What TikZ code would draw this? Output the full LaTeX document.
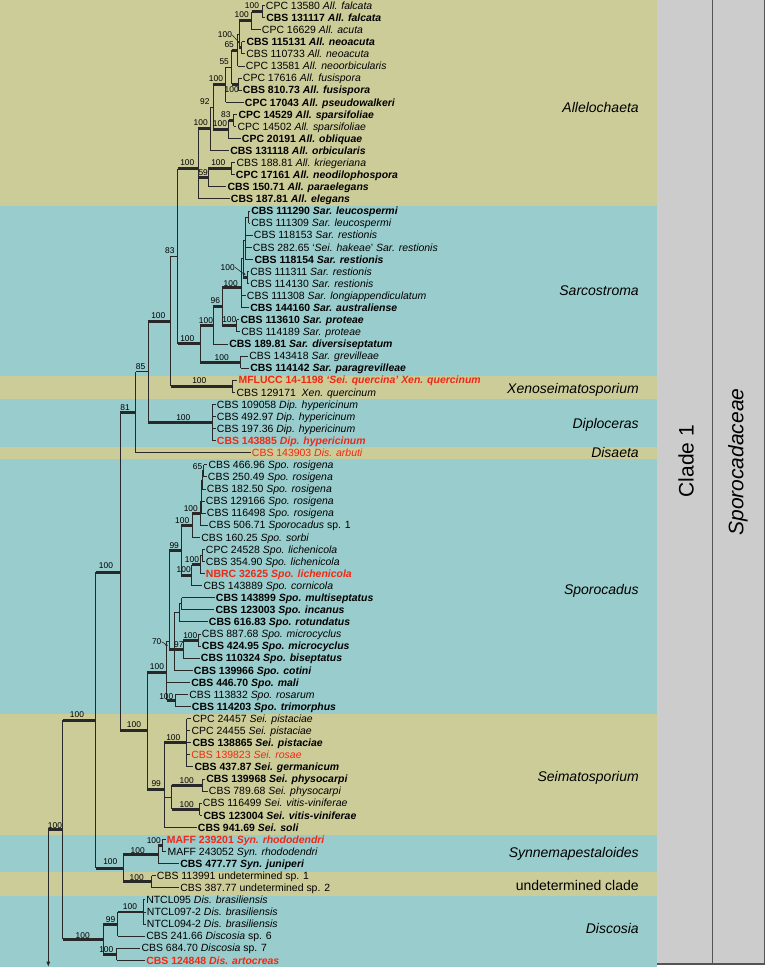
\documentclass[tikz,border=0pt]{standalone}
\usepackage{fontspec}
\setmainfont{Liberation Sans}
\usetikzlibrary{arrows.meta}
\definecolor{tanb}{RGB}{204,204,153}
\definecolor{blueb}{RGB}{153,204,204}
\definecolor{panel}{RGB}{204,204,204}
\definecolor{panelline}{RGB}{85,85,85}
\definecolor{redt}{RGB}{240,40,20}
\definecolor{ln}{RGB}{40,40,40}
\pgfmathdeclarefunction{ly}{1}{\pgfmathparse{5.6+(#1-1)*12.085}}
\newcommand\lv[4][]{\node[leaf,#1] (l#2) at ({#3-1.2},{ly(#2)}) {#4};}
\newcommand\br[3][thinb]{\draw[#1] (#2 |- #3) -- (#3);}
\newcommand\vt[3]{\draw[thinb] (#1 |- #2) -- (#1 |- #3);}
\newcommand\bs[4]{\node[bsl] (#1) at (#2,#3) {#4};}
\begin{document}
\begin{tikzpicture}[x=0.75pt,y=-0.75pt,
  thinb/.style={draw=ln, line width=0.7pt},
  thickb/.style={draw=ln, line width=2.2pt},
  arr/.style={draw=ln, line width=0.45pt, -{Latex[length=2.4pt,width=2pt]}},
  leaf/.style={anchor=west, inner xsep=0.9pt, inner ysep=0pt, text height=5.6pt, text depth=0pt, font=\fontsize{7.85}{9}\selectfont},
  bld/.style={font=\fontsize{7.85}{9}\selectfont\bfseries},
  rd/.style={text=redt},
  bsl/.style={inner sep=0pt, text height=4.5pt, text depth=0pt, font=\fontsize{6.3}{7}\selectfont},
  grp/.style={anchor=east, inner sep=0pt, text height=7.5pt, text depth=0pt, font=\fontsize{10.5}{12}\selectfont\itshape}]
\useasboundingbox (0,0) rectangle (765,969);
% bands
\fill[tanb] (0,0) rectangle (657,206);
\fill[blueb] (0,206) rectangle (657,376);
\fill[tanb] (0,376) rectangle (657,399);
\fill[blueb] (0,399) rectangle (657,447);
\fill[tanb] (0,447) rectangle (657,459);
\fill[blueb] (0,459) rectangle (657,713.5);
\fill[tanb] (0,713.5) rectangle (657,834.5);
\fill[blueb] (0,834.5) rectangle (657,872);
\fill[tanb] (0,872) rectangle (657,895.5);
\fill[blueb] (0,895.5) rectangle (657,967);
% right panel
\fill[panel] (657,0) rectangle (764.5,964);
\draw[panelline, line width=0.8pt] (712.5,0) -- (712.5,964) (764.5,0) -- (764.5,964) (657,964) -- (764.5,964);
\node[rotate=90, inner sep=0pt, font=\fontsize{15.75}{18}\selectfont] (clade) at (686,461) {Clade 1};
\node[rotate=90, inner sep=0pt, font=\fontsize{15.75}{18}\selectfont\itshape] (fam) at (738,462) {Sporocadaceae};
% group labels
\node[grp] (gAll) at (639,108) {Allelochaeta};
\node[grp] (gSar) at (639,291) {Sarcostroma};
\node[grp] (gXen) at (639,388) {Xenoseimatosporium};
\node[grp] (gDip) at (639,423) {Diploceras};
\node[grp] (gDis) at (639,452.8) {Disaeta};
\node[grp] (gSpo) at (639,589.5) {Sporocadus};
\node[grp] (gSei) at (639,776) {Seimatosporium};
\node[grp] (gSyn) at (639,852.6) {Synnemapestaloides};
\node[grp, font=\fontsize{10.5}{12}\selectfont] (gUnd) at (639,885.4) {undetermined clade};
\node[grp] (gDsc) at (639,928) {Discosia};
% leaves
\lv{1}{265.7}{CPC 13580 \textit{All. falcata}}
\lv[bld]{2}{266}{CBS 131117 \textit{All. falcata}}
\lv{3}{261.7}{CPC 16629 \textit{All. acuta}}
\lv[bld]{4}{246.3}{CBS 115131 \textit{All. neoacuta}}
\lv{5}{246}{CBS 110733 \textit{All. neoacuta}}
\lv{6}{245.7}{CPC 13581 \textit{All. neoorbicularis}}
\lv{7}{242.7}{CPC 17616 \textit{All. fusispora}}
\lv[bld]{8}{242.7}{CBS 810.73 \textit{All. fusispora}}
\lv[bld]{9}{244.7}{CPC 17043 \textit{All. pseudowalkeri}}
\lv[bld]{10}{238.3}{CPC 14529 \textit{All. sparsifoliae}}
\lv{11}{237.3}{CPC 14502 \textit{All. sparsifoliae}}
\lv[bld]{12}{241.7}{CPC 20191 \textit{All. obliquae}}
\lv[bld]{13}{230}{CBS 131118 \textit{All. orbicularis}}
\lv{14}{236.3}{CBS 188.81 \textit{All. kriegeriana}}
\lv[bld]{15}{235.7}{CPC 17161 \textit{All. neodilophospora}}
\lv[bld]{16}{227.3}{CBS 150.71 \textit{All. paraelegans}}
\lv[bld]{17}{230.7}{CBS 187.81 \textit{All. elegans}}
\lv[bld]{18}{251}{CBS 111290 \textit{Sar. leucospermi}}
\lv{19}{251}{CBS 111309 \textit{Sar. leucospermi}}
\lv{20}{253.7}{CBS 118153 \textit{Sar. restionis}}
\lv{21}{252.7}{CBS 282.65 `\textit{Sei. hakeae}' \textit{Sar. restionis}}
\lv[bld]{22}{254.3}{CBS 118154 \textit{Sar. restionis}}
\lv{23}{250}{CBS 111311 \textit{Sar. restionis}}
\lv{24}{250}{CBS 114130 \textit{Sar. restionis}}
\lv{25}{246.7}{CBS 111308 \textit{Sar. longiappendiculatum}}
\lv[bld]{26}{250}{CBS 144160 \textit{Sar. australiense}}
\lv[bld]{27}{240.3}{CBS 113610 \textit{Sar. proteae}}
\lv{28}{241}{CBS 114189 \textit{Sar. proteae}}
\lv[bld]{29}{229}{CBS 189.81 \textit{Sar. diversiseptatum}}
\lv{30}{249}{CBS 143418 \textit{Sar. grevilleae}}
\lv[bld]{31}{250}{CBS 114142 \textit{Sar. paragrevilleae}}
\lv[bld,rd]{32}{238.3}{MFLUCC 14-1198 \textit{`Sei. quercina' Xen. quercinum}}
\lv{33}{236.3}{CBS 129171\ \ \textit{Xen. quercinum}}
\lv{34}{216.7}{CBS 109058 \textit{Dip. hypericinum}}
\lv{35}{216.7}{CBS 492.97 \textit{Dip. hypericinum}}
\lv{36}{216.7}{CBS 197.36 \textit{Dip. hypericinum}}
\lv[bld,rd]{37}{216.7}{CBS 143885 \textit{Dip. hypericinum}}
\lv[rd]{38}{251.7}{CBS 143903 \textit{Dis. arbuti}}
\lv{39}{208.3}{CBS 466.96 \textit{Spo. rosigena}}
\lv{40}{207.7}{CBS 250.49 \textit{Spo. rosigena}}
\lv{41}{206.7}{CBS 182.50 \textit{Spo. rosigena}}
\lv{42}{205.7}{CBS 129166 \textit{Spo. rosigena}}
\lv{43}{206.7}{CBS 116498 \textit{Spo. rosigena}}
\lv{44}{208.7}{CBS 506.71 \textit{Sporocadus} sp. 1}
\lv{45}{201}{CBS 160.25 \textit{Spo. sorbi}}
\lv{46}{205.7}{CPC 24528 \textit{Spo. lichenicola}}
\lv{47}{205.7}{CBS 354.90 \textit{Spo. lichenicola}}
\lv[bld,rd]{48}{205.7}{NBRC 32625 \textit{Spo. lichenicola}}
\lv{49}{203.3}{CBS 143889 \textit{Spo. cornicola}}
\lv[bld]{50}{215.7}{CBS 143899 \textit{Spo. multiseptatus}}
\lv[bld]{51}{215.3}{CBS 123003 \textit{Spo. incanus}}
\lv[bld]{52}{208.7}{CBS 616.83 \textit{Spo. rotundatus}}
\lv{53}{201.7}{CBS 887.68 \textit{Spo. microcyclus}}
\lv[bld]{54}{201.7}{CBS 424.95 \textit{Spo. microcyclus}}
\lv[bld]{55}{200.7}{CBS 110324 \textit{Spo. biseptatus}}
\lv[bld]{56}{193.7}{CBS 139966 \textit{Spo. cotini}}
\lv[bld]{57}{191}{CBS 446.70 \textit{Spo. mali}}
\lv{58}{189}{CBS 113832 \textit{Spo. rosarum}}
\lv[bld]{59}{191.7}{CBS 114203 \textit{Spo. trimorphus}}
\lv{60}{192.3}{CPC 24457 \textit{Sei. pistaciae}}
\lv{61}{191.3}{CPC 24455 \textit{Sei. pistaciae}}
\lv[bld]{62}{192.3}{CBS 138865 \textit{Sei. pistaciae}}
\lv[rd]{63}{191}{CBS 139823 \textit{Sei. rosae}}
\lv[bld]{64}{194.3}{CBS 437.87 \textit{Sei. germanicum}}
\lv[bld]{65}{206}{CBS 139968 \textit{Sei. physocarpi}}
\lv{66}{208.7}{CBS 789.68 \textit{Sei. physocarpi}}
\lv{67}{202.7}{CBS 116499 \textit{Sei. vitis-viniferae}}
\lv[bld]{68}{203.3}{CBS 123004 \textit{Sei. vitis-viniferae}}
\lv[bld]{69}{197.7}{CBS 941.69 \textit{Sei. soli}}
\lv[bld,rd]{70}{166.7}{MAFF 239201 \textit{Syn. rhododendri}}
\lv{71}{167.3}{MAFF 243052 \textit{Syn. rhododendri}}
\lv[bld]{72}{180}{CBS 477.77 \textit{Syn. juniperi}}
\lv{73}{156.7}{CBS 113991 undetermined sp. 1}
\lv{74}{180}{CBS 387.77 undetermined sp. 2}
\lv{75}{146}{NTCL095 \textit{Dis. brasiliensis}}
\lv{76}{146.7}{NTCL097-2 \textit{Dis. brasiliensis}}
\lv{77}{146.7}{NTCL094-2 \textit{Dis. brasiliensis}}
\lv{78}{146}{CBS 241.66 \textit{Discosia} sp. 6}
\lv{79}{141.3}{CBS 684.70 \textit{Discosia} sp. 7}
\lv[bld,rd]{80}{146}{CBS 124848 \textit{Dis. artocreas}}
% internal nodes
\coordinate (nX) at (262.3,{ly(1.5)});
\coordinate (nV) at (251.7,{ly(2.25)});
\coordinate (nU) at (241.5,{ly(4.5)});
\coordinate (nW) at (239,{ly(3.375)});
\coordinate (nT) at (237.5,{ly(4.6875)});
\coordinate (nS) at (238.3,{ly(7.5)});
\coordinate (nR) at (231.7,{ly(6.09)});
\coordinate (nO) at (225.7,{ly(7.547)});
\coordinate (nQ) at (233.5,{ly(10.5)});
\coordinate (nP) at (228.7,{ly(11.25)});
\coordinate (nM) at (213.3,{ly(9.4)});
\coordinate (nJ) at (210,{ly(11.2)});
\coordinate (nL) at (231.3,{ly(14.5)});
\coordinate (nK) at (208.3,{ly(15.25)});
\coordinate (nI) at (198.3,{ly(14.48)});
\coordinate (nSI) at (248.5,{ly(18.5)});
\coordinate (nSH) at (245,{ly(20.4)});
\coordinate (nSJ) at (247.5,{ly(23.5)});
\coordinate (nSG) at (243,{ly(21.95)});
\coordinate (nSE) at (241,{ly(24.32)});
\coordinate (nSF) at (236.7,{ly(27.5)});
\coordinate (nSD) at (222.3,{ly(25.91)});
\coordinate (nSB) at (213.3,{ly(27.455)});
\coordinate (nSC) at (240.7,{ly(30.5)});
\coordinate (nSA) at (200,{ly(28.98)});
\coordinate (nH) at (177.7,{ly(21.73)});
\coordinate (nXE) at (232,{ly(32.5)});
\coordinate (nG) at (170.7,{ly(27.115)});
\coordinate (nDP) at (212.3,{ly(35.5)});
\coordinate (nF) at (148.3,{ly(31.31)});
\coordinate (nD) at (135.7,{ly(34.655)});
\coordinate (nNd) at (203.7,{ly(39.5)});
\coordinate (nNc) at (202.3,{ly(40.25)});
\coordinate (nNb) at (201.7,{ly(41.125)});
\coordinate (nNa) at (201,{ly(42.06)});
\coordinate (nSS) at (200,{ly(43.03)});
\coordinate (nSR) at (192.3,{ly(44.016)});
\coordinate (nSW) at (202.3,{ly(46.5)});
\coordinate (nSV) at (200.7,{ly(47.25)});
\coordinate (nSU) at (191.7,{ly(48.125)});
\coordinate (nSQ) at (181,{ly(46.07)});
\coordinate (nM1) at (181.7,{ly(50.5)});
\coordinate (nM2) at (179.3,{ly(51.25)});
\coordinate (nMP) at (198.3,{ly(53.5)});
\coordinate (nS97) at (183.3,{ly(54.25)});
\coordinate (nM4) at (174,{ly(54.25)});
\coordinate (nN70) at (169.3,{ly(53.6)});
\coordinate (nSX) at (175,{ly(58.5)});
\coordinate (nSP) at (166.7,{ly(56.2)});
\coordinate (nPI) at (186.7,{ly(62)});
\coordinate (nPP) at (202,{ly(65.5)});
\coordinate (nVV) at (199.7,{ly(67.5)});
\coordinate (nPV) at (171.7,{ly(66.5)});
\coordinate (nSEI) at (164.3,{ly(65.83)});
\coordinate (nE) at (147,{ly(61.0)});
\coordinate (nC) at (120,{ly(47.88)});
\coordinate (nSR2) at (162.3,{ly(70.5)});
\coordinate (nSY) at (158.3,{ly(71.25)});
\coordinate (nUD) at (151.7,{ly(73.5)});
\coordinate (nSU2) at (123.3,{ly(72.375)});
\coordinate (nB) at (95.7,{ly(60.13)});
\coordinate (nBR) at (143.3,{ly(76)});
\coordinate (nD99) at (117.7,{ly(77)});
\coordinate (nDb) at (116.7,{ly(79.5)});
\coordinate (nDS) at (103.3,{ly(78.25)});
\coordinate (nA) at (62.7,{ly(69.19)});
\coordinate (nRoot) at (48.3,{ly(69.19)});
\coordinate (nTip) at (48.3,967);
% Allelochaeta
\vt{nX}{l1.west}{l2.west} \br{nX}{l1.west} \br{nX}{l2.west}
\vt{nV}{nX}{l3.west} \br[thickb]{nV}{nX} \br{nV}{l3.west}
\vt{nU}{l4.west}{l5.west} \br{nU}{l4.west} \br{nU}{l5.west}
\vt{nW}{nV}{nU} \br[thickb]{nW}{nV} \br[thickb]{nW}{nU}
\vt{nT}{nW}{l6.west} \br{nT}{nW} \br{nT}{l6.west}
\vt{nS}{l7.west}{l8.west} \br{nS}{l7.west} \br{nS}{l8.west}
\vt{nR}{nT}{nS} \br[thickb]{nR}{nT} \br[thickb]{nR}{nS}
\vt{nO}{nR}{l9.west} \br{nO}{nR} \br{nO}{l9.west}
\vt{nQ}{l10.west}{l11.west} \br{nQ}{l10.west} \br{nQ}{l11.west}
\vt{nP}{nQ}{l12.west} \br[thickb]{nP}{nQ} \br{nP}{l12.west}
\vt{nM}{nO}{nP} \br[thickb]{nM}{nO} \br[thickb]{nM}{nP}
\vt{nJ}{nM}{l13.west} \br{nJ}{nM} \br{nJ}{l13.west}
\vt{nL}{l14.west}{l15.west} \br{nL}{l14.west} \br{nL}{l15.west}
\vt{nK}{nL}{l16.west} \br[thickb]{nK}{nL} \br{nK}{l16.west}
\vt{nI}{nJ}{l17.west} \br[thickb]{nI}{nJ} \br[thickb]{nI}{nK} \br{nI}{l17.west}
% Sarcostroma
\vt{nSI}{l18.west}{l19.west} \br{nSI}{l18.west} \br{nSI}{l19.west}
\vt{nSH}{nSI}{l22.west} \br{nSH}{nSI} \br{nSH}{l20.west} \br{nSH}{l21.west} \br{nSH}{l22.west}
\vt{nSJ}{l23.west}{l24.west} \br{nSJ}{l23.west} \br{nSJ}{l24.west}
\vt{nSG}{nSH}{nSJ} \br{nSG}{nSH} \br[thickb]{nSG}{nSJ}
\vt{nSE}{nSG}{l26.west} \br{nSE}{nSG} \br{nSE}{l25.west} \br{nSE}{l26.west}
\vt{nSF}{l27.west}{l28.west} \br{nSF}{l27.west} \br{nSF}{l28.west}
\vt{nSD}{nSE}{nSF} \br[thickb]{nSD}{nSE} \br[thickb]{nSD}{nSF}
\vt{nSB}{nSD}{l29.west} \br[thickb]{nSB}{nSD} \br{nSB}{l29.west}
\vt{nSC}{l30.west}{l31.west} \br{nSC}{l30.west} \br{nSC}{l31.west}
\vt{nSA}{nSB}{nSC} \br[thickb]{nSA}{nSB} \br[thickb]{nSA}{nSC}
\vt{nH}{nI}{nSA} \br[thickb]{nH}{nI} \br[thickb]{nH}{nSA}
\vt{nXE}{l32.west}{l33.west} \br{nXE}{l32.west} \br{nXE}{l33.west}
\vt{nG}{nH}{nXE} \br{nG}{nH} \br[thickb]{nG}{nXE}
\vt{nDP}{l34.west}{l37.west} \br{nDP}{l34.west} \br{nDP}{l35.west} \br{nDP}{l36.west} \br{nDP}{l37.west}
\vt{nF}{nG}{nDP} \br[thickb]{nF}{nG} \br[thickb]{nF}{nDP}
\vt{nD}{nF}{l38.west} \br{nD}{nF} \br{nD}{l38.west}
% Sporocadus
\vt{nNd}{l39.west}{l40.west} \br{nNd}{l39.west} \br{nNd}{l40.west}
\vt{nNc}{nNd}{l41.west} \br{nNc}{nNd} \br{nNc}{l41.west}
\vt{nNb}{nNc}{l42.west} \br{nNb}{nNc} \br{nNb}{l42.west}
\vt{nNa}{nNb}{l43.west} \br{nNa}{nNb} \br{nNa}{l43.west}
\vt{nSS}{nNa}{l44.west} \br{nSS}{nNa} \br{nSS}{l44.west}
\vt{nSR}{nSS}{l45.west} \br[thickb]{nSR}{nSS} \br{nSR}{l45.west}
\vt{nSW}{l46.west}{l47.west} \br{nSW}{l46.west} \br{nSW}{l47.west}
\vt{nSV}{nSW}{l48.west} \br{nSV}{nSW} \br{nSV}{l48.west}
\vt{nSU}{nSV}{l49.west} \br[thickb]{nSU}{nSV} \br{nSU}{l49.west}
\vt{nSQ}{nSR}{nSU} \br[thickb]{nSQ}{nSR} \br[thickb]{nSQ}{nSU}
\vt{nM1}{l50.west}{l51.west} \br{nM1}{l50.west} \br{nM1}{l51.west}
\vt{nM2}{nM1}{l52.west} \br{nM2}{nM1} \br{nM2}{l52.west}
\vt{nMP}{l53.west}{l54.west} \br{nMP}{l53.west} \br{nMP}{l54.west}
\vt{nS97}{nMP}{l55.west} \br[thickb]{nS97}{nMP} \br{nS97}{l55.west}
\vt{nM4}{nM2}{l56.west} \br{nM4}{nM2} \br[thickb]{nM4}{nS97} \br{nM4}{l56.west}
\vt{nN70}{nSQ}{nM4} \br[thickb]{nN70}{nSQ} \br[thickb]{nN70}{nM4}
\vt{nSX}{l58.west}{l59.west} \br{nSX}{l58.west} \br{nSX}{l59.west}
\vt{nSP}{nN70}{nSX} \br{nSP}{nN70} \br{nSP}{l57.west} \br[thickb]{nSP}{nSX}
% Seimatosporium
\vt{nPI}{l60.west}{l64.west} \br{nPI}{l60.west} \br{nPI}{l61.west} \br{nPI}{l62.west} \br{nPI}{l63.west} \br{nPI}{l64.west}
\vt{nPP}{l65.west}{l66.west} \br{nPP}{l65.west} \br{nPP}{l66.west}
\vt{nVV}{l67.west}{l68.west} \br{nVV}{l67.west} \br{nVV}{l68.west}
\vt{nPV}{nPP}{nVV} \br[thickb]{nPV}{nPP} \br[thickb]{nPV}{nVV}
\vt{nSEI}{nPI}{l69.west} \br[thickb]{nSEI}{nPI} \br{nSEI}{nPV} \br{nSEI}{l69.west}
\vt{nE}{nSP}{nSEI} \br[thickb]{nE}{nSP} \br[thickb]{nE}{nSEI}
\vt{nC}{nD}{nE} \br[thickb]{nC}{nD} \br[thickb]{nC}{nE}
% Synnemapestaloides + undetermined
\vt{nSR2}{l70.west}{l71.west} \br{nSR2}{l70.west} \br{nSR2}{l71.west}
\vt{nSY}{nSR2}{l72.west} \br[thickb]{nSY}{nSR2} \br{nSY}{l72.west}
\vt{nUD}{l73.west}{l74.west} \br{nUD}{l73.west} \br{nUD}{l74.west}
\vt{nSU2}{nSY}{nUD} \br[thickb]{nSU2}{nSY} \br[thickb]{nSU2}{nUD}
\vt{nB}{nC}{nSU2} \br[thickb]{nB}{nC} \br[thickb]{nB}{nSU2}
% Discosia
\vt{nBR}{l75.west}{l77.west} \br{nBR}{l75.west} \br{nBR}{l76.west} \br{nBR}{l77.west}
\vt{nD99}{nBR}{l78.west} \br[thickb]{nD99}{nBR} \br{nD99}{l78.west}
\vt{nDb}{l79.west}{l80.west} \br{nDb}{l79.west} \br{nDb}{l80.west}
\vt{nDS}{nD99}{nDb} \br[thickb]{nDS}{nD99} \br[thickb]{nDS}{nDb}
\vt{nA}{nB}{nDS} \br[thickb]{nA}{nB} \br[thickb]{nA}{nDS}
\draw[thickb] (nRoot) -- (nA);
\draw[thinb, -{Latex[length=4pt,width=3pt]}] (nRoot) -- (nTip);
% support values
\bs{b1}{55}{825}{100}
\bs{b2}{77}{714}{100}
\bs{b3}{106}{565}{100}
\bs{b4}{134}{724.3}{100}
\bs{b5}{110.3}{861.7}{100}
\bs{b6}{82.7}{935}{100}
\bs{b7}{125}{407.3}{81}
\bs{b8}{140.5}{366}{85}
\bs{b9}{158.3}{316}{100}
\bs{b10}{183.3}{417.3}{100}
\bs{b11}{169.8}{251}{83}
\bs{b12}{199.3}{380.7}{100}
\bs{b13}{187.3}{162.7}{100}
\bs{b14}{187.3}{338.7}{100}
\bs{b15}{200.7}{122.3}{100}
\bs{b16}{203.2}{172.3}{59}
\bs{b17}{218.3}{162.7}{100}
\bs{b18}{204.8}{101.7}{92}
\bs{b19}{216}{79}{100}
\bs{b20}{220}{124}{100}
\bs{b21}{225.8}{115}{83}
\bs{b22}{224.2}{61.7}{55}
\bs{b23}{231.7}{90}{100}
\bs{b24}{229.2}{44.3}{65}
\bs{b25}{225}{35}{100}
\bs{b26}{241.7}{15}{100}
\bs{b27}{252}{5.5}{100}
\bs{b28}{206}{320.7}{100}
\bs{b29}{221.7}{357.3}{100}
\bs{b30}{215.3}{301}{96}
\bs{b31}{230.7}{283.3}{100}
\bs{b32}{229.3}{319.3}{100}
\bs{b33}{227.7}{267.3}{100}
\bs{b34}{157}{666}{100}
\bs{b35}{156.2}{783.3}{99}
\bs{b36}{156.7}{641.7}{70}
\bs{b37}{174.2}{545}{99}
\bs{b38}{182.2}{520.7}{100}
\bs{b39}{190.8}{508.3}{100}
\bs{b40}{183.7}{569.3}{100}
\bs{b41}{192}{559.3}{100}
\bs{b42}{197.5}{466}{65}
\bs{b43}{178.8}{644}{97}
\bs{b44}{190.3}{635}{100}
\bs{b45}{166.3}{696}{100}
\bs{b46}{173.3}{737.3}{100}
\bs{b47}{186.7}{780}{100}
\bs{b48}{186.7}{804}{100}
\bs{b49}{137.7}{850}{100}
\bs{b50}{153.8}{840.7}{100}
\bs{b51}{136.7}{877.3}{100}
\bs{b52}{110.5}{919.3}{99}
\bs{b53}{130}{906}{100}
\bs{b54}{106.3}{949.3}{100}
% small pointer arrows
\coordinate (aU) at (240.3,44);
\coordinate (aSJ) at (246,275.5);
\coordinate (aN70) at (168.2,646);
\draw[arr] (b25.east) -- (aU);
\draw[arr] (b33.east) -- (aSJ);
\draw[arr] (b36.east) -- (aN70);
\end{tikzpicture}
\end{document}
